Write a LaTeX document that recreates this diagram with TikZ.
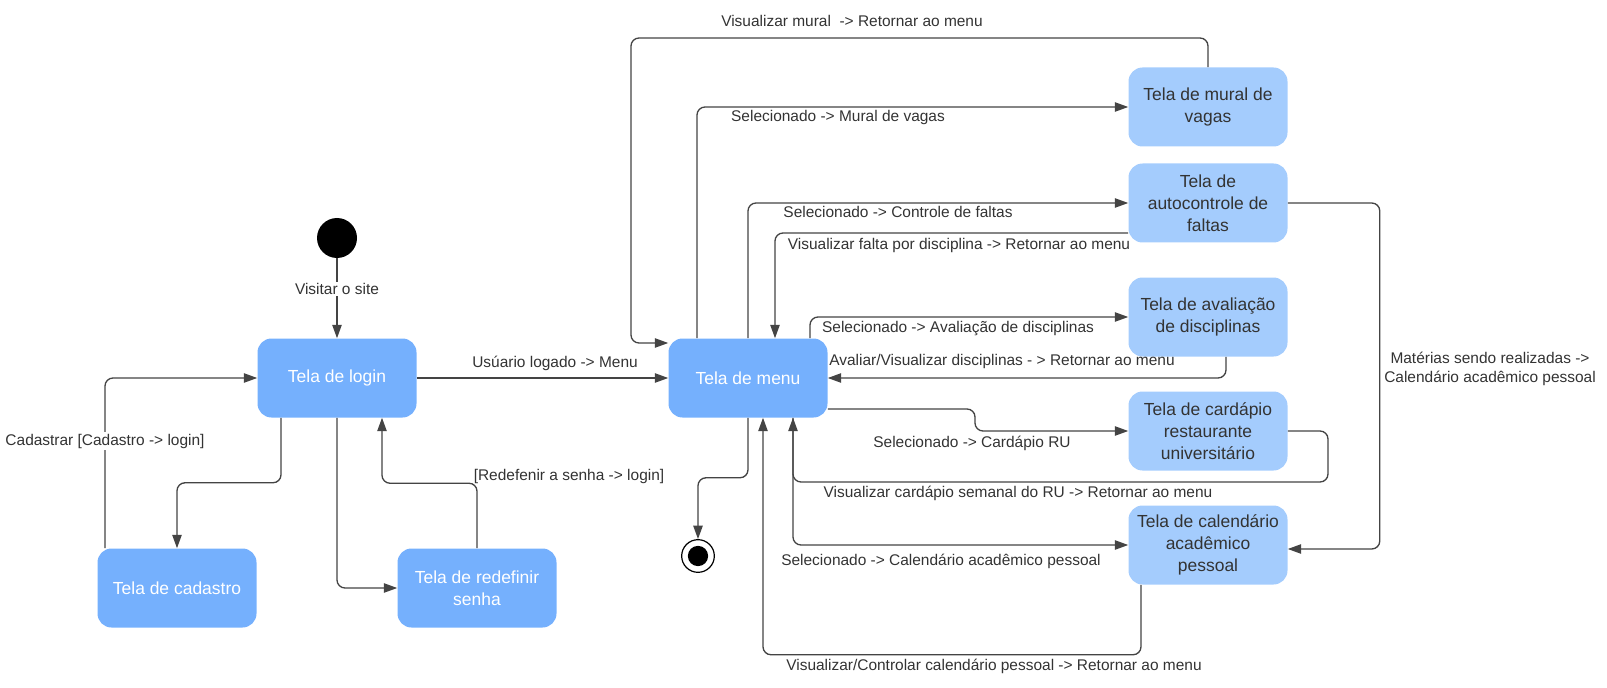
\documentclass[tikz,border=0pt]{standalone}
\usepackage{fontspec}
\setmainfont{Liberation Sans}
\usetikzlibrary{arrows.meta,calc}
\definecolor{darkbox}{HTML}{75B0FD}
\definecolor{lightbox}{HTML}{A4CCFD}
\definecolor{txt}{HTML}{333333}
\definecolor{wire}{HTML}{444444}
\begin{document}
\begin{tikzpicture}[x=0.75pt,y=-0.75pt,
  basebox/.style={rectangle, rounded corners=10.5pt, minimum width=119.25pt, minimum height=59.25pt, align=center, inner sep=2pt, font=\fontsize{13.1}{16.5}\selectfont},
  darkstate/.style={basebox, fill=darkbox, text=white},
  lightstate/.style={basebox, fill=lightbox, text=txt},
  lbl/.style={font=\fontsize{11.6}{14.3}\selectfont, text=txt, inner sep=1pt, align=center},
  arr/.style={draw=wire, line width=1pt, rounded corners=6pt, -{Triangle[length=10pt,width=7pt]}}]
\useasboundingbox (0,0) rectangle (1607,688);

% states
\node[circle, fill=black, minimum size=30pt, inner sep=0] (init) at (337,238) {};
\node[darkstate] (login) at (337,378) {Tela de login};
\node[darkstate] (cadastro) at (177,588) {Tela de cadastro};
\node[darkstate] (redef) at (477,588) {Tela de redefinir\\senha};
\node[darkstate] (menu) at (748,378) {Tela de menu};
\node[circle, draw=black, fill=white, line width=0.9pt, minimum size=24.5pt, inner sep=0] (final) at (698,556) {};
\fill[black] (final.center) circle (7.6pt);
\node[lightstate] (mural) at (1208,107) {Tela de mural de\\vagas};
\node[lightstate] (autoc) at (1208,203) {Tela de\\autocontrole de\\faltas};
\node[lightstate] (aval) at (1208,317) {Tela de avaliação\\de disciplinas};
\node[lightstate] (card) at (1208,431) {Tela de cardápio\\restaurante\\universitário};
\node[lightstate] (cal) at (1208,545) {Tela de calendário\\acadêmico\\pessoal};

% login side
\draw[arr] (init) -- (login);
\node[lbl, fill=white] (l1) at (337,289) {Visitar o site};
\draw[arr] (login) -- (menu);
\node[lbl] (l2) at (555,363) {Usúario logado -> Menu};
\draw[arr] ($(login.south)+(-56,0)$) -- ++(0,65) -| (cadastro.north);
\draw[arr] ($(cadastro.north)+(-72,0)$) |- (login.west);
\node[lbl, fill=white] (l3) at (105,441) {Cadastrar [Cadastro -> login]};
\draw[arr] (login.south) |- (redef.west);
\draw[arr] (redef.north) -- ++(0,-65) -| ($(login.south)+(45,0)$);
\node[lbl] (l4) at (569,476) {[Redefenir a senha -> login]};
\draw[arr] (menu.south) -- ++(0,60) -| (final.north);

% menu side
\draw[arr] (mural.north) |- (631,38) |- ($(menu.west)+(0,-35)$);
\node[lbl] (l5) at (852,21) {Visualizar mural\ \ -> Retornar ao menu};
\draw[arr] ($(menu.north)+(-51,0)$) |- (mural.west);
\node[lbl] (l6) at (838,118) {Selecionado -> Mural de vagas};
\draw[arr] (menu.north) |- (autoc.west);
\node[lbl] (l7) at (898,212) {Selecionado -> Controle de faltas};
\draw[arr] ($(autoc.west)+(0,30)$) -| ($(menu.north)+(27,0)$);
\node[lbl] (l8) at (959,246) {Visualizar falta por disciplina -> Retornar ao menu};
\draw[arr] ($(menu.north)+(62,0)$) |- (aval.west);
\node[lbl] (l9) at (958,329) {Selecionado -> Avaliação de disciplinas};
\draw[arr] ($(aval.south)+(18,0)$) |- (menu.east);
\node[lbl] (l10) at (1002,362) {Avaliar/Visualizar disciplinas - > Retornar ao menu};
\draw[arr] ($(menu.east)+(0,31)$) -- (975,409) -- (975,431) -- (card.west);
\node[lbl] (l11) at (972,443) {Selecionado -> Cardápio RU};
\draw[arr] (card.east) -| (1328,482) -| ($(menu.south)+(45,0)$);
\node[lbl] (l12) at (1018,493) {Visualizar cardápio semanal do RU -> Retornar ao menu};
\draw[arr] ($(menu.south)+(45,0)$) |- (cal.west);
\node[lbl] (l13) at (941,561) {Selecionado -> Calendário acadêmico pessoal};
\draw[arr] ($(cal.south)+(-67,0)$) -- ++(0,70) -| ($(menu.south)+(15,0)$);
\node[lbl] (l14) at (994,666) {Visualizar/Controlar calendário pessoal -> Retornar ao menu};
\draw[arr] (autoc.east) -- ++(92,0) |- ($(cal.east)+(0,4)$);
\node[lbl] (l15) at (1490,369) {Matérias sendo realizadas ->\\Calendário acadêmico pessoal};
\end{tikzpicture}
\end{document}
